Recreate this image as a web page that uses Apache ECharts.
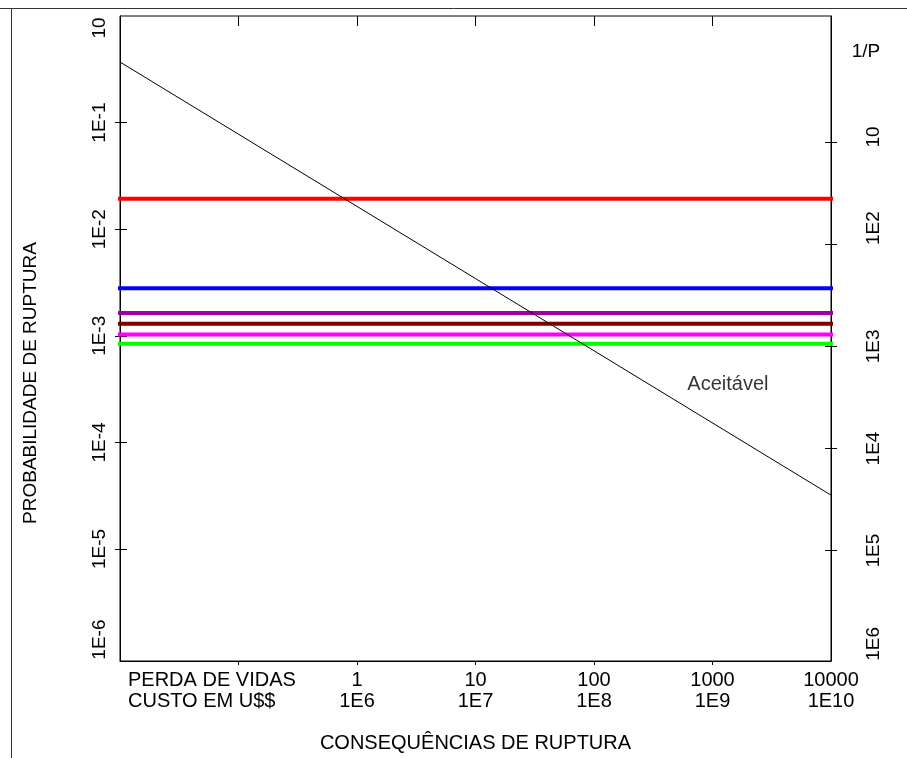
<!DOCTYPE html>
<html>
<head>
<meta charset="utf-8">
<script src="https://cdn.jsdelivr.net/npm/echarts@6/dist/echarts.min.js"></script>
<style>
  html, body { margin: 0; padding: 0; background: #fff; }
  #chart { width: 907px; height: 758px; }
</style>
</head>
<body>
<div id="chart"></div>
<script>
// consequence axis (lives lost), log scale
const xTicks = [0.1, 1, 10, 100, 1000];
const xLabels = [0.01, 1, 10, 100, 1000, 10000];
// probability axis ticks / labels
const pTicks = [0.1, 0.01, 1e-3, 1e-4, 1e-5];
const pLabels = [1, 0.1, 0.01, 1e-3, 1e-4, 1e-5, 1e-6];
// 1/P axis ticks / labels
const invTicks = [10, 100, 1000, 10000, 100000];
const invLabels = [10, 100, 1000, 10000, 100000, 1000000];

// horizontal risk levels (probability)
const levelValues = [0.0193, 0.0028, 0.00164, 0.0013, 0.00103, 0.00084];
const levelColors = ['#ff0000', '#0000ff', '#a000a0', '#800000', '#ff00ff', '#00ff00'];

// acceptable limit line
const acceptX = [0.01, 10000];
const acceptY = [0.37, 3.2e-5];
const acceptLabelPos = [1350, 3.5e-4];

const FONT = '"Liberation Sans", Arial, sans-serif';

const chart = echarts.init(document.getElementById('chart'));

const lg = v => Math.round(Math.log10(v));

const xLabelFmt = (v) => {
    const e = lg(v);
    if (e < 0) return '{m|PERDA DE VIDAS}\n{m|CUSTO EM U$$}';
    return '{a|' + Math.pow(10, e) + '}\n{a|1E' + (e + 6) + '}';
};

const pLabelFmt = (v) => {
    const e = lg(v);
    if (e === 0) return '{top|10}';
    if (e === -6) return '{bot|1E-6}';
    return '{a|1E' + e + '}';
};

const invLabelFmt = (v) => {
    const e = lg(v);
    if (e === 1) return '{t1|10}';
    if (e === 2) return '{t2|1E2}';
    if (e === 6) return '{t6|1E6}';
    return '{a|1E' + e + '}';
};

const yText = { fontFamily: FONT, fontSize: 19, color: '#000' };

const series = levelValues.map((v, i) => ({
    type: 'line',
    data: [[acceptX[0], v], [acceptX[1], v]],
    symbol: 'none',
    silent: true,
    lineStyle: { color: levelColors[i], width: 4, cap: 'square' }
}));

series.push({
    type: 'line',
    data: acceptX.map((x, i) => [x, acceptY[i]]),
    symbol: 'none',
    silent: true,
    lineStyle: { color: '#000', width: 1 }
});

series.push({
    type: 'scatter',
    data: [acceptLabelPos],
    symbolSize: 0,
    silent: true,
    label: {
        show: true,
        position: 'inside',
        formatter: 'Aceitável',
        fontFamily: FONT,
        fontSize: 20,
        color: '#000'
    }
});

chart.setOption({
    animation: false,
    backgroundColor: '#fff',
    grid: {
        left: 120, right: 76, top: 16, bottom: 96,
        show: true, borderColor: '#000', borderWidth: 1
    },
    xAxis: [
        {
            type: 'log',
            min: 0.01,
            max: 10000,
            axisLine: { show: true, lineStyle: { color: '#000' } },
            axisTick: { show: true, inside: false, length: 4, customValues: xTicks, lineStyle: { color: '#000' } },
            splitLine: { show: false },
            axisLabel: {
                customValues: xLabels,
                formatter: xLabelFmt,
                margin: 9,
                alignMinLabel: 'left',
                rich: {
                    a: { fontFamily: FONT, fontSize: 20, color: '#000', lineHeight: 21 },
                    m: { fontFamily: FONT, fontSize: 20, color: '#000', lineHeight: 21, padding: [0, 0, 0, 8] }
                }
            },
            name: 'CONSEQUÊNCIAS DE RUPTURA',
            nameLocation: 'middle',
            nameGap: 72,
            nameTextStyle: { fontFamily: FONT, fontSize: 20, color: '#000' }
        },
        {
            type: 'log',
            min: 0.01,
            max: 10000,
            axisLine: { show: false },
            axisTick: { show: true, inside: true, length: 10, customValues: xTicks, lineStyle: { color: '#000' } },
            splitLine: { show: false },
            axisLabel: { show: false }
        }
    ],
    yAxis: [
        {
            type: 'log',
            min: 8.9e-7,
            max: 1,
            position: 'left',
            axisLine: { show: true, lineStyle: { color: '#000' } },
            axisTick: { show: true, inside: false, length: 5, customValues: pTicks, lineStyle: { color: '#000' } },
            splitLine: { show: false },
            axisLabel: {
                customValues: pLabels,
                formatter: pLabelFmt,
                rotate: 90,
                margin: 11,
                rich: {
                    a: yText,
                    top: Object.assign({ padding: [0, 24, 0, 0] }, yText),
                    bot: Object.assign({ padding: [0, 0, 0, 32] }, yText)
                }
            }
        },
        {
            type: 'log',
            min: 8.9e-7,
            max: 1,
            position: 'left',
            axisLine: { show: false },
            axisTick: { show: true, inside: true, length: 7, customValues: pTicks, lineStyle: { color: '#000' } },
            splitLine: { show: false },
            axisLabel: { show: false }
        },
        {
            type: 'log',
            min: 0.586,
            max: 1.2e6,
            inverse: true,
            position: 'right',
            axisLine: { show: true, lineStyle: { color: '#000' } },
            axisTick: { show: true, inside: false, length: 6, customValues: invTicks, lineStyle: { color: '#000' } },
            splitLine: { show: false },
            axisLabel: {
                customValues: invLabels,
                formatter: invLabelFmt,
                rotate: 90,
                margin: 33,
                rich: {
                    a: yText,
                    t1: Object.assign({ padding: [0, 0, 0, 10] }, yText),
                    t2: Object.assign({ padding: [0, 0, 0, 32] }, yText),
                    t6: Object.assign({ padding: [0, 0, 0, 18] }, yText)
                }
            }
        },
        {
            type: 'log',
            min: 0.586,
            max: 1.2e6,
            inverse: true,
            position: 'right',
            axisLine: { show: false },
            axisTick: { show: true, inside: true, length: 6, customValues: invTicks, lineStyle: { color: '#000' } },
            splitLine: { show: false },
            axisLabel: { show: false }
        }
    ],
    graphic: [
        {
            type: 'text',
            x: 31, y: 383,
            rotation: Math.PI / 2,
            style: {
                text: 'PROBABILIDADE DE RUPTURA',
                fontFamily: FONT, fontSize: 19, fill: '#000',
                align: 'center', verticalAlign: 'middle'
            }
        },
        {
            type: 'text',
            x: 866, y: 52,
            style: {
                text: '1/P',
                fontFamily: FONT, fontSize: 19, fill: '#000',
                align: 'center', verticalAlign: 'middle'
            }
        },
        {
            type: 'line',
            shape: { x1: 0, y1: 8.5, x2: 907, y2: 8.5 },
            style: { stroke: '#333', lineWidth: 1 }
        },
        {
            type: 'line',
            shape: { x1: 11.5, y1: 8, x2: 11.5, y2: 758 },
            style: { stroke: '#333', lineWidth: 1 }
        }
    ],
    series: series
});
</script>
</body>
</html>
